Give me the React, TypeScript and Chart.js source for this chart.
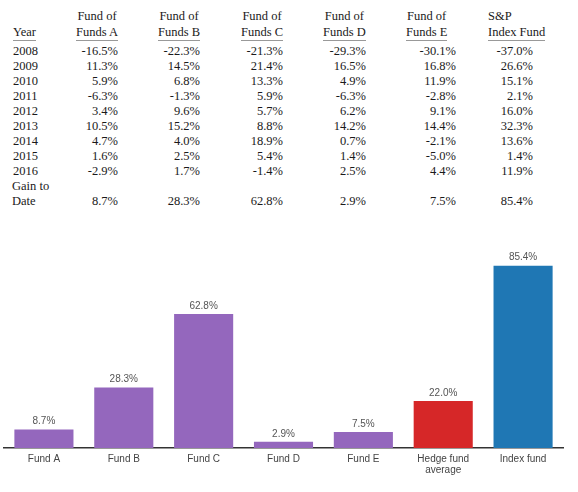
import React, { useRef, useEffect } from 'react';
import { Chart, registerables } from 'chart.js';

Chart.register(...registerables);

// table data
const YEARS = ['2008', '2009', '2010', '2011', '2012', '2013', '2014', '2015', '2016'];
const FUND_A = [-16.5, 11.3, 5.9, -6.3, 3.4, 10.5, 4.7, 1.6, -2.9];
const FUND_B = [-22.3, 14.5, 6.8, -1.3, 9.6, 15.2, 4.0, 2.5, 1.7];
const FUND_C = [-21.3, 21.4, 13.3, 5.9, 5.7, 8.8, 18.9, 5.4, -1.4];
const FUND_D = [-29.3, 16.5, 4.9, -6.3, 6.2, 14.2, 0.7, 1.4, 2.5];
const FUND_E = [-30.1, 16.8, 11.9, -2.8, 9.1, 14.4, -2.1, -5.0, 4.4];
const SP_INDEX = [-37.0, 26.6, 15.1, 2.1, 16.0, 32.3, 13.6, 1.4, 11.9];
const TABLE_HEADERS = [
    ['Fund of', 'Funds A'],
    ['Fund of', 'Funds B'],
    ['Fund of', 'Funds C'],
    ['Fund of', 'Funds D'],
    ['Fund of', 'Funds E'],
    ['S&P', 'Index Fund'],
];

// chart data
const BAR_LABELS = ['Fund A', 'Fund B', 'Fund C', 'Fund D', 'Fund E', ['Hedge fund', 'average'], 'Index fund'];
const GAIN_TO_DATE = [8.7, 28.3, 62.8, 2.9, 7.5, 22.0, 85.4];
const BAR_COLORS = ['#9467bd', '#9467bd', '#9467bd', '#9467bd', '#9467bd', '#d62728', '#1f77b4'];

const TABLE_COLUMNS = [FUND_A, FUND_B, FUND_C, FUND_D, FUND_E, SP_INDEX];
// layout only: header left edge, header alignment, data right edge
const HEADER_X = [76, 158, 241, 323, 406, 488];
const HEADER_ALIGN: ('center' | 'left')[] = ['center', 'center', 'center', 'center', 'center', 'left'];
const DATA_RIGHT = [118, 200, 283, 366, 456, 533];
const ROW_TOP = 44;
const ROW_H = 15;

const fmt = (v: number) => `${v.toFixed(1)}%`;

const valueLabels = {
    id: 'valueLabels',
    afterDatasetsDraw(chart: Chart) {
        const { ctx } = chart;
        const meta = chart.getDatasetMeta(0);
        ctx.save();
        ctx.font = "10px 'Liberation Sans', Arial, sans-serif";
        ctx.fillStyle = '#555555';
        ctx.textAlign = 'center';
        ctx.textBaseline = 'bottom';
        meta.data.forEach((bar: any, i: number) => {
            const v = chart.data.datasets[0].data[i] as number;
            ctx.fillText(fmt(v), bar.x, bar.y - 3);
        });
        ctx.restore();
    },
};

const GainChart: React.FC = () => {
    const canvasRef = useRef<HTMLCanvasElement>(null);

    useEffect(() => {
        if (!canvasRef.current) return;
        const chart = new Chart(canvasRef.current, {
            type: 'bar',
            data: {
                labels: BAR_LABELS as any,
                datasets: [{
                    data: GAIN_TO_DATE,
                    backgroundColor: BAR_COLORS,
                    borderWidth: 0,
                    categoryPercentage: 1,
                    barPercentage: 0.74,
                }],
            },
            options: {
                animation: false,
                responsive: false,
                maintainAspectRatio: false,
                layout: { padding: { left: 4, right: 15, top: 28, bottom: 10 } },
                plugins: { legend: { display: false }, tooltip: { enabled: false } },
                scales: {
                    x: {
                        grid: { display: false, drawTicks: false },
                        border: { display: true, color: '#333333', width: 1.5 },
                        ticks: {
                            padding: 6,
                            color: '#444444',
                            maxRotation: 0,
                            autoSkip: false,
                            font: { family: "'Liberation Sans', Arial, sans-serif", size: 10, lineHeight: 1.1 },
                        },
                    },
                    y: { display: false, min: 0, max: 89 },
                },
            },
            plugins: [valueLabels],
        });
        return () => { chart.destroy(); };
    }, []);

    return <canvas ref={canvasRef} width={578} height={262} style={{ position: 'absolute', left: 0, top: 230 }} />;
};

const serif = "'Liberation Serif', 'Times New Roman', serif";

const App: React.FC = () => {
    return (
        <div style={{ position: 'fixed', left: 0, top: 0, width: 578, height: 492, background: '#ffffff', overflow: 'hidden', fontFamily: serif, fontSize: 12.5, color: '#1a1a1a' }}>
            {/* Year header */}
            <div style={{ position: 'absolute', left: 13, top: 24, lineHeight: '16px' }}>
                <span style={{ display: 'inline-block', borderBottom: '1.5px solid #999' }}>Year</span>
            </div>
            {TABLE_HEADERS.map((h, i) => (
                <div key={i} style={{ position: 'absolute', left: HEADER_X[i], top: 8, lineHeight: '16px' }}>
                    <div style={{ display: 'inline-block', textAlign: HEADER_ALIGN[i], borderBottom: '1.5px solid #999' }}>
                        {h[0]}<br />{h[1]}
                    </div>
                </div>
            ))}
            {YEARS.map((y, r) => (
                <div key={y} style={{ position: 'absolute', left: 13, top: ROW_TOP + r * ROW_H, lineHeight: `${ROW_H}px` }}>{y}</div>
            ))}
            <div style={{ position: 'absolute', left: 12, top: ROW_TOP + YEARS.length * ROW_H, lineHeight: `${ROW_H}px` }}>
                Gain to<br />Date
            </div>
            {TABLE_COLUMNS.map((col, c) => (
                <React.Fragment key={c}>
                    {col.map((v, r) => (
                        <div key={r} style={{ position: 'absolute', right: 578 - DATA_RIGHT[c], top: ROW_TOP + r * ROW_H, lineHeight: `${ROW_H}px`, textAlign: 'right' }}>{fmt(v)}</div>
                    ))}
                    <div style={{ position: 'absolute', right: 578 - DATA_RIGHT[c], top: ROW_TOP + (YEARS.length + 1) * ROW_H, lineHeight: `${ROW_H}px`, textAlign: 'right' }}>{fmt(GAIN_TO_DATE[c === 5 ? 6 : c])}</div>
                </React.Fragment>
            ))}
            <GainChart />
        </div>
    );
};

export default App;
